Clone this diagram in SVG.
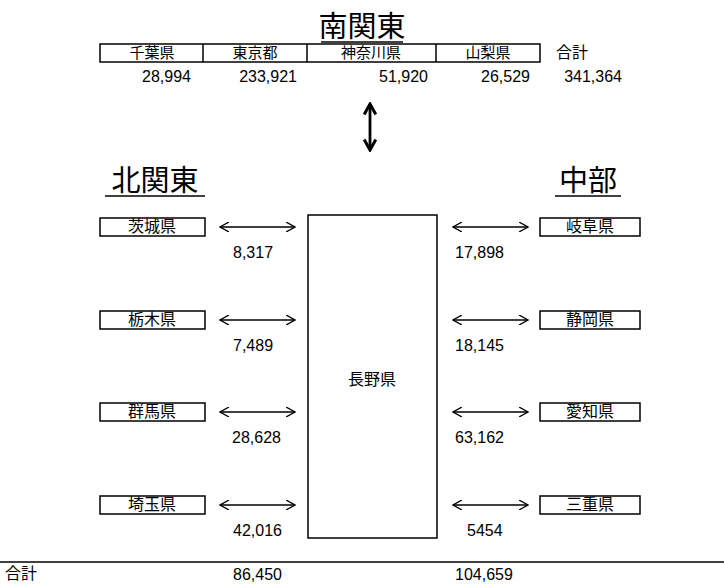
<svg xmlns="http://www.w3.org/2000/svg" width="724" height="584" viewBox="0 0 724 584">
<style>
.jp{font-family:"Liberation Sans","Noto Sans CJK JP",sans-serif;fill:#000}
.lbl{font-size:16px}
.sm{font-size:15px}
.ttl{font-size:29px}
.num{font-family:"Liberation Sans",Arial,sans-serif;font-size:16px;fill:#000}
.box{fill:#fff;stroke:#000;stroke-width:1.5}
.ul{stroke:#000;stroke-width:1.5}
.arr{stroke:#000;stroke-width:1.3;fill:none}
.arrv{stroke:#000;stroke-width:2.8;fill:none}
</style>
<defs>
<marker id="h" viewBox="0 0 10 10" refX="9" refY="5" markerWidth="10" markerHeight="10" markerUnits="userSpaceOnUse" orient="auto-start-reverse">
<path d="M0,0 L9,5 L0,10" fill="none" stroke="#000" stroke-width="1.3"/>
</marker>
<marker id="hv" viewBox="0 0 12 12" refX="10" refY="6" markerWidth="14" markerHeight="14" markerUnits="userSpaceOnUse" orient="auto-start-reverse">
<path d="M1,1 L10,6 L1,11" fill="none" stroke="#000" stroke-width="2.6"/>
</marker>
</defs>
<rect width="724" height="584" fill="#fff"/>
<g id="title-minamikanto">
<text class="jp ttl" x="362" y="37" text-anchor="middle" font-size="28">南関東</text>
<line class="ul" x1="321" y1="42" x2="403" y2="42"/>
</g>
<g id="minamikanto-table">
<rect class="box" x="100" y="44" width="440" height="18"/>
<line class="ul" x1="203" y1="44" x2="203" y2="62"/>
<line class="ul" x1="307" y1="44" x2="307" y2="62"/>
<line class="ul" x1="436" y1="44" x2="436" y2="62"/>
<text class="jp sm" x="152" y="57.5" text-anchor="middle">千葉県</text>
<text class="jp sm" x="255" y="57.5" text-anchor="middle">東京都</text>
<text class="jp sm" x="371" y="57.5" text-anchor="middle">神奈川県</text>
<text class="jp sm" x="488" y="57.5" text-anchor="middle">山梨県</text>
<text class="jp lbl" x="556" y="58">合計</text>
<text class="num" x="191" y="82" text-anchor="end">28,994</text>
<text class="num" x="297" y="82" text-anchor="end">233,921</text>
<text class="num" x="428" y="82" text-anchor="end">51,920</text>
<text class="num" x="530" y="82" text-anchor="end">26,529</text>
<text class="num" x="622" y="82" text-anchor="end">341,364</text>
</g>
<g id="title-kitakanto">
<text class="jp ttl" x="155" y="191" text-anchor="middle">北関東</text>
<line class="ul" x1="105" y1="196" x2="205" y2="196"/>
</g>
<g id="title-chubu">
<text class="jp ttl" x="588" y="191" text-anchor="middle">中部</text>
<line class="ul" x1="555" y1="196" x2="621" y2="196"/>
</g>
<g id="nagano">
<rect class="box" x="308" y="215" width="129" height="323"/>
<text class="jp lbl" x="372" y="385" text-anchor="middle">長野県</text>
</g>
<g id="ibaraki"><rect class="box" x="100" y="218" width="105" height="18"/><text class="jp lbl" x="152" y="232" text-anchor="middle">茨城県</text></g>
<g id="tochigi"><rect class="box" x="100" y="311" width="105" height="18"/><text class="jp lbl" x="152" y="325" text-anchor="middle">栃木県</text></g>
<g id="gunma"><rect class="box" x="100" y="403" width="105" height="18"/><text class="jp lbl" x="152" y="417" text-anchor="middle">群馬県</text></g>
<g id="saitama"><rect class="box" x="100" y="496" width="105" height="18"/><text class="jp lbl" x="152" y="510" text-anchor="middle">埼玉県</text></g>
<g id="gifu"><rect class="box" x="540" y="218" width="100" height="18"/><text class="jp lbl" x="590" y="232" text-anchor="middle">岐阜県</text></g>
<g id="shizuoka"><rect class="box" x="540" y="311" width="100" height="18"/><text class="jp lbl" x="590" y="325" text-anchor="middle">静岡県</text></g>
<g id="aichi"><rect class="box" x="540" y="403" width="100" height="18"/><text class="jp lbl" x="590" y="417" text-anchor="middle">愛知県</text></g>
<g id="mie"><rect class="box" x="540" y="496" width="100" height="18"/><text class="jp lbl" x="590" y="510" text-anchor="middle">三重県</text></g>
<g id="connectors">
<line class="arrv" x1="370" y1="104" x2="370" y2="150" marker-start="url(#hv)" marker-end="url(#hv)"/>
<line class="arr" x1="220" y1="227" x2="295" y2="227" marker-start="url(#h)" marker-end="url(#h)"/>
<line class="arr" x1="220" y1="320" x2="295" y2="320" marker-start="url(#h)" marker-end="url(#h)"/>
<line class="arr" x1="220" y1="412" x2="295" y2="412" marker-start="url(#h)" marker-end="url(#h)"/>
<line class="arr" x1="220" y1="505" x2="295" y2="505" marker-start="url(#h)" marker-end="url(#h)"/>
<line class="arr" x1="453" y1="227" x2="528" y2="227" marker-start="url(#h)" marker-end="url(#h)"/>
<line class="arr" x1="453" y1="320" x2="528" y2="320" marker-start="url(#h)" marker-end="url(#h)"/>
<line class="arr" x1="453" y1="412" x2="528" y2="412" marker-start="url(#h)" marker-end="url(#h)"/>
<line class="arr" x1="453" y1="505" x2="528" y2="505" marker-start="url(#h)" marker-end="url(#h)"/>
<text class="num" x="233" y="258">8,317</text>
<text class="num" x="233" y="351">7,489</text>
<text class="num" x="232" y="443">28,628</text>
<text class="num" x="233" y="536">42,016</text>
<text class="num" x="455" y="258">17,898</text>
<text class="num" x="455" y="351">18,145</text>
<text class="num" x="455" y="443">63,162</text>
<text class="num" x="467" y="536">5454</text>
</g>
<g id="totals">
<line class="ul" x1="0" y1="562" x2="724" y2="562"/>
<text class="jp lbl" x="5" y="579">合計</text>
<text class="num" x="233" y="580">86,450</text>
<text class="num" x="455" y="580">104,659</text>
</g>
</svg>
